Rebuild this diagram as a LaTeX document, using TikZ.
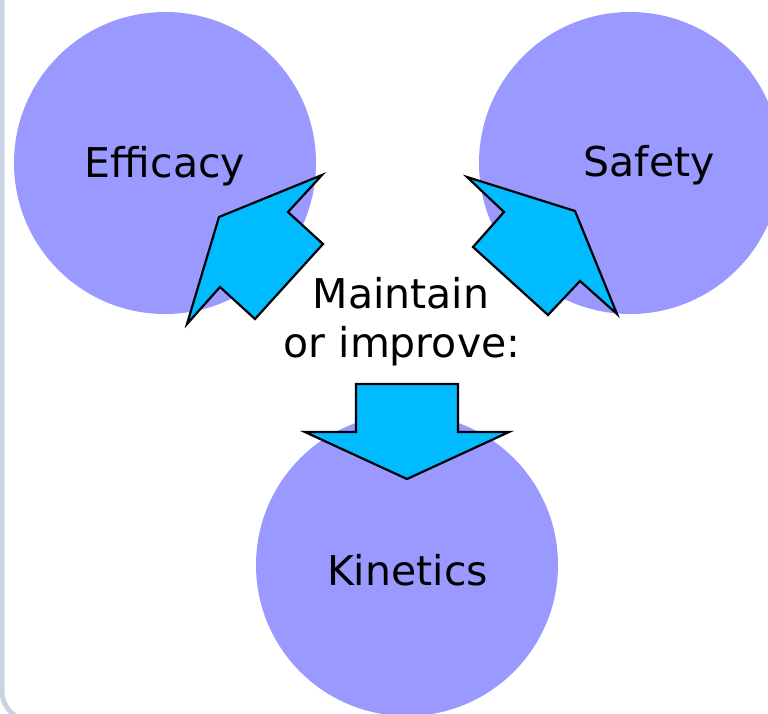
\documentclass[tikz,border=0pt]{standalone}
\usepackage{fontspec}
\setmainfont{DejaVu Sans}
\definecolor{framegrey}{RGB}{202,211,230}
\definecolor{discblue}{RGB}{153,153,255}
\definecolor{arrowcyan}{RGB}{0,187,255}
\begin{document}
\begin{tikzpicture}[x=1pt,y=-1pt,
  disc/.style={circle,fill=discblue,minimum size=302pt,inner sep=0pt},
  blockarrow/.style={fill=arrowcyan,draw=black,line width=2.2pt,line join=miter},
  label/.style={anchor=base,font=\fontsize{41}{49}\selectfont,text=black,inner sep=0pt}]
  \useasboundingbox (0,0) rectangle (768,713);
  \fill[white] (0,0) rectangle (768,713);
  % panel frame, rounded at the lower left
  \draw[framegrey,line width=5pt,rounded corners=30pt] (2,-20) -- (2,721) -- (800,721);
  % the three goals
  \node[disc] (efficacy) at (165,163) {};
  \node[disc] (safety) at (630,163) {};
  \node[disc] (kinetics) at (407,565) {};
  % block arrows
  \draw[blockarrow] (187,324) -- (219,217) -- (322,175) -- (288,212) -- (323,244) -- (255,319) -- (220,287) -- cycle;
  \draw[blockarrow] (467,177) -- (575,211) -- (617,314) -- (580,281) -- (548,315) -- (473,247) -- (504,212) -- cycle;
  \draw[blockarrow] (356,384) -- (458,384) -- (458,432) -- (509,432) -- (407,479) -- (305,432) -- (356,432) -- cycle;
  % labels
  \node[label] (tefficacy) at (165,177) {Efficacy};
  \node[label] (tsafety) at (649,176) {Safety};
  \node[label] (tkinetics) at (407.5,585.5) {Kinetics};
  \node[label] (tmaintain) at (401,308) {Maintain};
  \node[label] (timprove) at (402,357) {or improve:};
\end{tikzpicture}
\end{document}
